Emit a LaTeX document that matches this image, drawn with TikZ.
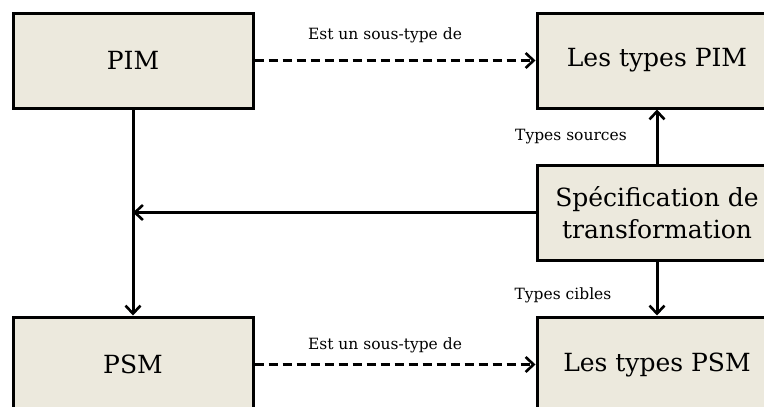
\documentclass[tikz,border=0pt]{standalone}
\usepackage{fontspec}
\setmainfont{DejaVu Serif}
\usetikzlibrary{arrows.meta}
\definecolor{boxfill}{RGB}{236,233,221}
\tikzset{
  x=1pt, y=-1pt,
  box/.style={draw=black, fill=boxfill, line width=3pt, inner sep=0pt, align=center,
              minimum width=240pt, minimum height=95pt,
              font=\fontsize{25}{32}\selectfont},
  lbl/.style={font=\fontsize{15.5}{18}\selectfont, inner sep=1pt},
  conn/.style={line width=3pt, -{Straight Barb[length=8pt,width=15pt,line width=2.6pt]}},
  subtype/.style={conn, dash pattern=on 9pt off 5pt},
}
\begin{document}
\begin{tikzpicture}
\useasboundingbox (0,0) rectangle (764,407);
\clip (0,0) rectangle (764,407);
% boxes
\node[box] (pim) at (133,60.5) {PIM};
\node[box] (tpim) at (657,60.5) {Les types PIM};
\node[box] (spec) at (657,212.5) {Spécification de\\transformation};
\node[box] (psm) at (133,364.5) {PSM};
\node[box] (tpsm) at (657,364.5) {Les types PSM};
% subtype relations
\draw[subtype] (pim.east) -- (tpim.west);
\draw[subtype] (psm.east) -- (tpsm.west);
\node[lbl] (l1) at (385,35) {Est un sous-type de};
\node[lbl] (l2) at (385,345) {Est un sous-type de};
% refinement PIM -> PSM
\draw[conn] (pim.south) -- (psm.north);
% transformation specification links
\coordinate (join) at (pim.south |- spec.west);
\draw[conn] (spec.west) -- (join);
\draw[conn] (spec.north) -- (tpim.south);
\draw[conn] (spec.south) -- (tpsm.north);
\node[lbl] (src) at (571,137) {Types sources};
\node[lbl] (tgt) at (563,295) {Types cibles};
\end{tikzpicture}
\end{document}
